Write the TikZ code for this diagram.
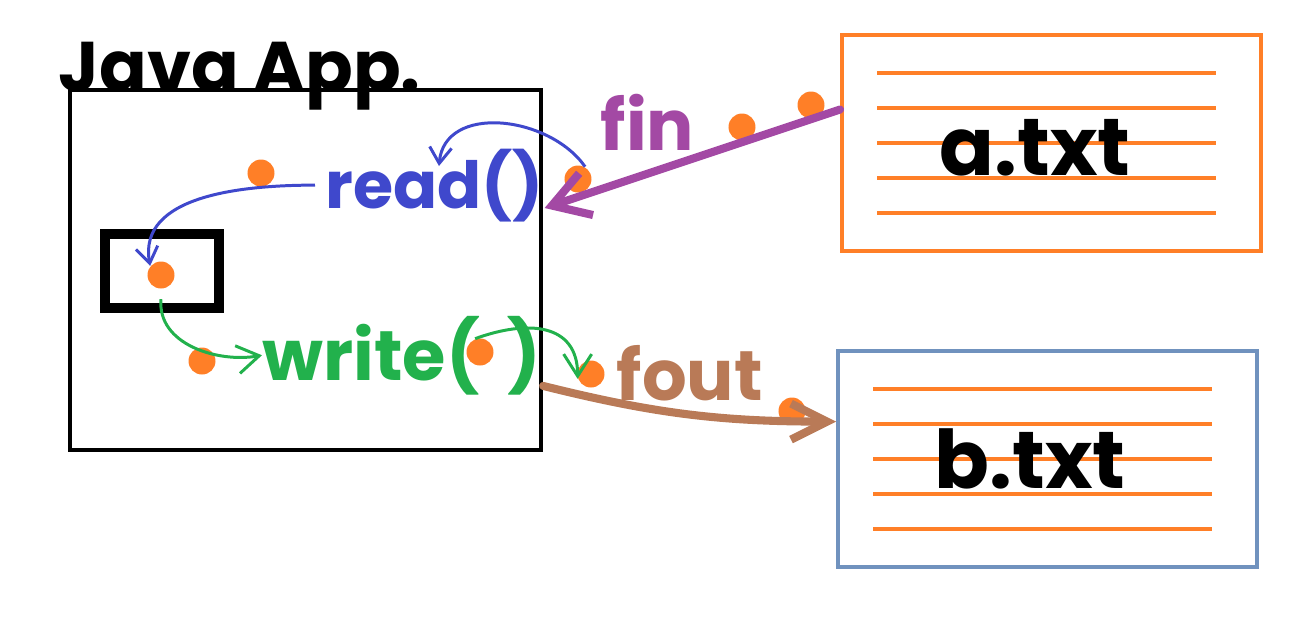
\documentclass[tikz,border=0pt]{standalone}
\usepackage{fontspec}
\setmainfont{Poppins}
\usetikzlibrary{positioning,arrows.meta}

\definecolor{readblue}{HTML}{3F48CC}
\definecolor{writegreen}{HTML}{22B14C}
\definecolor{finpurple}{HTML}{A349A4}
\definecolor{foutbrown}{HTML}{B97A57}
\definecolor{dotorange}{HTML}{FF7F27}
\definecolor{filegray}{HTML}{7092BE}

\begin{document}
\begin{tikzpicture}[
    framenode/.style={rectangle, draw=black, line width=1.2pt, minimum width=4.71cm, minimum height=3.6cm},
    bufnode/.style={rectangle, draw=black, line width=2.85pt, minimum width=1.14cm, minimum height=0.74cm},
    filenode/.style={rectangle, line width=1.1pt, minimum width=4.19cm, minimum height=2.16cm},
    dotnode/.style={circle, fill=dotorange, inner sep=0pt, minimum size=0.27cm},
    wordnode/.style={inner sep=0pt, font=\fontsize{20}{24}\selectfont\bfseries},
    ]
        \useasboundingbox (0,0) rectangle (13.12,6.28);

        %Nodes
        \node[framenode]
            (app)   at (3.055,3.58)  {};
        \node[wordnode, anchor=base west]
            (title) at (0.58,5.37)   {Java App.};
        \node[bufnode]
            (buf)   at (1.62,3.57)   {};
        \node[wordnode, font=\fontsize{18.5}{22}\selectfont\bfseries, text=readblue, anchor=base west]
            (readf) at (3.25,4.20)   {read()};
        \node[wordnode, text=writegreen, anchor=base west]
            (writef) at (2.62,2.48)  {write(\hspace{0.4em})};
        \node[wordnode, text=finpurple, anchor=base west]
            (fin)   at (6.00,4.78)   {fin};
        \node[wordnode, text=foutbrown, anchor=base west]
            (fout)  at (6.16,2.28)   {fout};
        \node[filenode, draw=dotorange]
            (afile) at (10.515,4.85) {};
        \node[filenode, draw=filegray]
            (bfile) [below=0.96cm of afile, xshift=-0.4mm] {};
        \foreach \f in {afile,bfile}
            \foreach \d in {0.70,0.35,0,-0.35,-0.70}
                \draw[dotorange, line width=1.1pt]
                    ([xshift=-1.74cm, yshift=\d cm]\f.center) -- ([xshift=1.65cm, yshift=\d cm]\f.center);
        \node[wordnode, font=\fontsize{23}{28}\selectfont\bfseries, anchor=base]
            (atext) at (10.35,4.53)  {a.txt};
        \node[wordnode, font=\fontsize{23}{28}\selectfont\bfseries, anchor=base]
            (btext) at (10.30,1.40)  {b.txt};

        \node[dotnode] (d1) at (2.61,4.55) {};
        \node[dotnode] (d2) at (5.78,4.49) {};
        \node[dotnode] (d3) at (7.42,5.01) {};
        \node[dotnode] (d4) at (8.11,5.23) {};
        \node[dotnode] (d5) at (1.61,3.53) {};
        \node[dotnode] (d6) at (2.02,2.67) {};
        \node[dotnode] (d7) at (4.80,2.76) {};
        \node[dotnode] (d8) at (5.91,2.54) {};
        \node[dotnode] (d9) at (7.92,2.17) {};
        \coordinate (rdin) at (4.39,4.62);

        %Lines
        \draw[->, >={Straight Barb[length=3.6mm, width=4.4mm]}, draw=finpurple, line width=2.3pt, line cap=round]
            (afile.171) -- (readf.base east);
        \draw[->, >={Straight Barb[length=3.6mm, width=3.6mm]}, draw=foutbrown, line width=2.3pt, line cap=round]
            (app.-26) to[out=-14, in=180] (bfile.170);
        \draw[->, >={Straight Barb[length=1.6mm, width=2.2mm]}, draw=readblue, line width=0.85pt]
            (d2.60) to[out=125, in=85, looseness=1.1] (rdin);
        \draw[->, >={Straight Barb[length=1.6mm, width=2.2mm]}, draw=readblue, line width=0.85pt]
            ([xshift=-1mm]readf.west) to[out=180, in=100] (d5.140);
        \draw[->, >={Straight Barb[length=2.2mm, width=2.8mm]}, draw=writegreen, line width=0.85pt]
            ([yshift=-1mm]d5.south) to[out=-95, in=190] (writef.west);
        \draw[->, >={Straight Barb[length=2.2mm, width=2.8mm]}, draw=writegreen, line width=0.85pt]
            (d7.110) to[out=20, in=90, looseness=1.3] (d8.200);
    \end{tikzpicture}
\end{document}
